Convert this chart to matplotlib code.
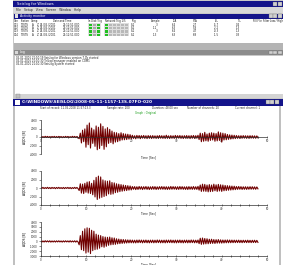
import numpy as np
import matplotlib
matplotlib.use("Agg")
import matplotlib.pyplot as plt
from matplotlib.patches import Rectangle
from matplotlib.ticker import MultipleLocator

# ---------------- data ----------------
dt = 0.25  # seconds between listed samples
trace1 = [120, -150, 100, -130, 160, -110, 140, -120, 90, -150, 130, -100, 150, -140, 110, -120, 140, -90,
          120, -160, 100, -130, 150, -110, 130, -140, 90, -120, 160, -100, 140, -130, 110, -150,
          -400, 900, -1400, 1600, -1100, 1900, -2400, 2800, -1800, 3300,
          -2600, 2100, -1500, 1700, -2200, 2600, -3000, 2300, -2700, 3100,
          -2000, 2500, -2900, 1900, -2300, 2200, -1500, 1800, -1300, 1400,
          -1600, 1100, -1200, 1000, -1100, 800, -900, 1000, -700, 800,
          -650, 700, -600, 650, -500, 550, -450,
          400, -350, 300, -420, 380, -300, 350, -400, 320, -280, 360, -330, 300, -380, 340, -290, 310, -360,
          330, -300, 280, -340, 300, -320, 350, -290, 310, -330, 300, -350, 420, -300, 280, -360, 330, -310,
          290, -340, 380, -300, 320, -280, 350, -330, 300, -360, 310, -290, 340, -320, 300, -380, 330, -300,
          360, -340, 310, -290, 400,
          -600, 900, -1100, 800, -1000, 1100, -900, 700, -1000, 900, -800, 1000, -700, 900, -1000, 800,
          -900, 1200, -800, 1000, -1200, 900, -700, 800, -650, 600, -550, 500, -480, 450, -420, 400,
          -380, 350, -320, 300, -340, 310, -300, 330, -280, 300, -320, 290, -300, 310, -280, 300, -290, 270,
          -300, 260, -200]
trace2 = [130, -110, 150, -140, 100, -120, 160, -130, 110, -150, 140, -100, 120, -160, 130, -110, 150, -120,
          100, -140, 130, -150, 110, -100, 140, -130, 120, -160, 100, -120, 150, -110, 130, -140,
          -600, 1000, -1200, 900, -1300, 1100, -1000, 1400, -1200, 1500,
          -1300, 1100, -1600, 1800, -2100, 2500, -2700, 2800, -2400, 2600,
          -2200, 1900, -2000, 1700, -1800, 1600, -1400, 1700, -1500, 1300,
          -1400, 1200, -1100, 1000, -1000, 900, -850, 800, -750, 700,
          -650, 600, -600, 550, -500, 480, -450,
          350, -300, 330, -380, 300, -340, 360, -290, 320, -370, 310, -280, 350, -330, 300, -360, 290, -320,
          340, -300, 330, -350, 280, -310, 320, -290, 340, -300, 310, -330, 300, -350, 290, -320, 360, -300,
          330, -280, 310, -340, 300, -330, 350, -290, 320, -310, 280, -340, 300, -360, 330, -300, 290, -320,
          350, -310, 300, -330, 380,
          -500, 700, -800, 900, -750, 850, -800, 700, -900, 800, -850, 700, -800, 900, -650, 750,
          -800, 850, -700, 750, -800, 700, -650, 600, -600, 550, -520, 500, -480, 450, -430, 420,
          -380, 350, -330, 360, -300, 320, -340, 290, -310, 300, -330, 280, -300, 310, -290, 300, -280, 270,
          -300, 250, -200]
trace3 = [110, -130, 100, -120, 140, -100, 120, -110, 130, -140, 100, -120, 110, -130, 120, -100, 130, -110,
          100, -140, 120, -110, 130, -100, 110, -130, 140, -120, 100, -110, 130, -140, 120, -100,
          -700, 1200, -1700, 2100, -1900, 2600, -2400, 2800, -2200, 2700,
          -2500, 2300, -1900, 2100, -1700, 1500, -1600, 1300, -1400, 1200,
          -1100, 1000, -1200, 900, -1000, 850, -800, 900, -700, 750,
          -650, 700, -600, 550, -500, 480, -450, 420, -400, 380,
          -360, 340, -330, 320, -300, 310, -290,
          280, -300, 260, -310, 290, -270, 300, -250, 280, -300, 270, -260, 290, -280, 250, -300, 270, -260,
          280, -290, 260, -270, 300, -250, 280, -290, 260, -280, 270, -300, 290, -260, 280, -250, 300, -270,
          260, -290, 280, -300, 270, -260, 290, -280, 250, -300, 270, -260, 280, -290, 260, -270, 300, -250,
          280, -290, 260, -280, 300,
          -450, 650, -600, 700, -550, 600, -500, 550, -480, 450, -420, 450, -400, 380, -420, 360,
          -350, 380, -340, 320, -350, 300, -320, 300, -290, 310, -280, 290, -270, 280, -260, 270,
          -250, 260, -240, 270, -250, 240, -260, 250, -230, 240, -250, 260, -240, 230, -250, 240, -230, 250,
          -240, 220, -200]
traces = [trace1, trace2, trace3]
yticks_list = [[-4000, -2000, 0, 2000, 4000],
               [-4000, -2000, 0, 2000, 4000],
               [-3000, -2000, -1000, 0, 1000, 2000, 3000, 4000]]
xticks = [0, 10, 20, 30, 40, 50]

tbl_chn = ["001", "002", "003", "004"]
tbl_sample = ["3", "-11", "3", "-13"]
tbl_lta = ["6.4", "6.3", "6.4", "6.3"]
tbl_sta = ["2.7", "5.8", "4.7", "6.8"]
tbl_sl = ["-5.7", "-2.2", "-0.3", "-1.5"]
tbl_tl = ["0.4", "1.3", "1.3", "0.3"]
log_lines = ["06-01-2001 21:10:19 Seislog for Windows version 7.0b started",
             "06-01-2001 21:10:30 Telitop manager enabled on COM1",
             "06-01-2001 21:10:30 Seislog System started"]

# ---------------- figure ----------------
W, H = 283, 265
fig = plt.figure(figsize=(W / 100, H / 100), dpi=100)
bg = fig.add_axes([0, 0, 1, 1], zorder=0)
bg.set_xlim(0, W)
bg.set_ylim(H, 0)
bg.axis("off")

NAVY = "#14148a"
GRAY = "#c8c8c8"
DGRAY = "#8c8c8c"


def rect(x, y, w, h, c, ec="none", lw=0):
    bg.add_patch(Rectangle((x, y), w, h, facecolor=c, edgecolor=ec, linewidth=lw))


def txt(x, y, s, size=2.2, c="#202020", ha="left", **kw):
    bg.text(x, y, s, fontsize=size, color=c, ha=ha, va="center", **kw)


def buttons(xr, y, h, n=3):
    for i in range(n):
        rect(xr - (n - i) * 4.3, y, 3.8, h, "#d0d0d0", ec="#606060", lw=0.2)


# app window
rect(13, 0, W - 13, 99, GRAY)
rect(13, 0.5, W - 13, 6, NAVY)
txt(17, 3.5, "Seislog for Windows", size=2.6, c="white")
buttons(282, 1.5, 4, n=2)
rect(13, 6.5, W - 13, 6, "#d8d8d8")
txt(16, 9.5, "File   Setup   View   Screen   Window   Help", size=2.2)
# activity monitor
rect(14, 13.5, W - 14, 5, NAVY)
rect(15, 14.3, 3, 3.2, "#e0e0e0")
txt(19.5, 16, "Activity monitor", size=2.3, c="white")
buttons(282, 14.3, 3.4)
rect(14, 18.5, W - 14, 24.5, "white")
hdr = [(14, "Chn"), (21, "Station"), (31, "Comp."), (53, "Date and Time"), (87.5, "In Disk Trig"),
       (105, "Network Trig 1/5"), (131, "Trig"), (151, "Sample"), (173, "LTA"), (193, "STA"),
       (215, "S/L"), (237, "T/L"), (253, "Pill File"), (263, "Filter Low / High")]
for x, s in hdr:
    txt(x, 21, s, size=1.8, c="#101010")
rect(88, 23, 13, 13, "#dedede")
rect(104, 23, 25, 13, "#dedede")
for k in range(4):
    y = 25 + 3.2 * k
    txt(13.5, y, tbl_chn[k], size=1.9)
    txt(20.5, y, "TESTS", size=1.9)
    txt(32, y, "A", size=1.9)
    txt(36.5, y, "Z", size=1.9)
    txt(40, y, "04./05./2001", size=1.9)
    txt(63, y, "22:12:51.000", size=1.9)
    rect(89, y - 1.1, 3, 2.2, "#22c022")
    rect(93, y - 1.1, 3, 2.2, "#a8a8a8")
    rect(97, y - 1.1, 3, 2.2, "#22c022")
    rect(105, y - 1.1, 3, 2.2, "#22c022")
    for j in range(5):
        rect(109 + j * 4, y - 1.1, 3, 2.2, "#b8b8b8")
    txt(131, y, "S-1", size=1.9)
    txt(157, y, tbl_sample[k], size=1.9, ha="right")
    txt(176, y, tbl_lta[k], size=1.9, ha="right")
    txt(197, y, tbl_sta[k], size=1.9, ha="right")
    txt(219, y, tbl_sl[k], size=1.9, ha="right")
    txt(240, y, tbl_tl[k], size=1.9, ha="right")
rect(14, 43, W - 14, 7, "#b4b4b4")
# log window
rect(14, 50, W - 14, 5, DGRAY)
rect(15, 50.8, 3, 3.2, "#d8d8d8")
txt(19.5, 52.5, "Log", size=2.3, c="white")
buttons(282, 50.8, 3.4)
rect(15, 55.5, W - 15, 38, "white")
for k, s in enumerate(log_lines):
    txt(16, 58 + 3 * k, s, size=1.9)
rect(15, 93.5, W - 15, 4.5, "#d4d4d4")
rect(15.5, 94, 4, 3.5, "#c0c0c0", ec="#707070", lw=0.2)

# seismogram window
rect(13, 98.5, W - 13, H - 98.5, "#c0c0c0")
rect(280.5, 105.5, 3, H - 105.5, "white")
rect(13, 99, W - 13, 6.5, NAVY)
rect(15, 100, 4.5, 4.5, "white")
txt(22, 102.3, r"C:\WINDOWS\SEISLOG\2008-05-11-1157-13S.07FO-020", size=3.1, c="white",
    fontweight="bold")
buttons(279, 100.3, 4)
rect(15, 105.5, 264, H - 105.5, "white")
txt(40, 108.3, "Start of record: 11.05.2008 11:57:13.3", size=1.9)
txt(107, 108.3, "Sample rate: 200", size=1.9)
txt(152, 108.3, "Duration: 48.00 sec", size=1.9)
txt(187, 108.3, "Number of channels: 20", size=1.9)
txt(235, 108.3, "Current channel: 1", size=1.9)
txt(146, 113.2, "Graph : Original", size=1.9, c="#20a020", ha="center")

# ---------------- traces ----------------
ax_pos = [(120, 154), (171, 205), (222, 256)]
ylims = [(-4000, 4000), (-4000, 4000), (-3000, 4000)]
time_label_y = [157, 213, 264]
left_px, right_px = 40.7, 267.0
for i, (tr, (ytop, ybot)) in enumerate(zip(traces, ax_pos)):
    ax = fig.add_axes([left_px / W, 1 - ybot / H, (right_px - left_px) / W, (ybot - ytop) / H], zorder=2)
    ax.patch.set_alpha(0)
    t = np.arange(len(tr)) * dt
    ax.plot(t, tr, color="#700000", lw=0.8)
    ax.set_xlim(0, 50)
    ax.set_ylim(*ylims[i])
    ax.set_yticks(yticks_list[i])
    ax.set_yticklabels([str(v) for v in yticks_list[i]])
    ax.set_xticks(xticks)
    ax.xaxis.set_minor_locator(MultipleLocator(2))
    for s in ["top", "right"]:
        ax.spines[s].set_visible(False)
    for s in ["left", "bottom"]:
        ax.spines[s].set_linewidth(0.5)
        ax.spines[s].set_color("#303030")
    if i == 0:
        ax.spines["bottom"].set_position(("data", 0))
    ax.tick_params(axis="both", which="major", labelsize=2.0, length=1.8, width=0.4, pad=0.8,
                   colors="#303030")
    ax.tick_params(axis="x", which="both", direction="inout")
    ax.tick_params(axis="x", which="minor", length=1.2, width=0.4)
    ax.set_ylabel("AQDS [B]", fontsize=2.2, labelpad=2)
    bg.text(149, time_label_y[i], "Time [Sec]", fontsize=2.1, ha="center", va="center", color="#202020")

fig.savefig("out.png", dpi=100)
